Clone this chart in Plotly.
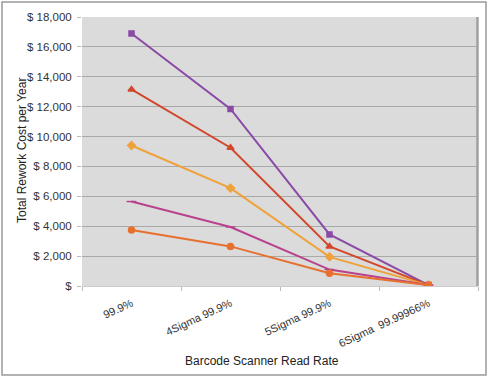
import plotly.graph_objects as go

categories = ["99.9%", "4Sigma 99.9%", "5Sigma 99.9%", "6Sigma  99.99966%"]
series_a = [16900, 11850, 3450, 60]   # purple, square
series_b = [13150, 9250, 2650, 60]    # red, triangle
series_c = [9400, 6550, 1950, 60]     # yellow-orange, diamond
series_d = [5650, 3950, 1100, 60]     # magenta, dash
series_e = [3750, 2650, 850, 60]      # orange, circle
y_ticks = [0, 2000, 4000, 6000, 8000, 10000, 12000, 14000, 16000, 18000]
y_tick_labels = ["$", "$ 2,000", "$ 4,000", "$ 6,000", "$ 8,000", "$ 10,000",
                 "$ 12,000", "$ 14,000", "$ 16,000", "$ 18,000"]

styles = [
    (series_a, "#8A4AA6", "square", 5),
    (series_b, "#D2482C", "triangle-up", 6),
    (series_c, "#EFA23A", "diamond", 6),
    (series_d, "#B9428E", "line-ew-open", 7),
    (series_e, "#E8702E", "circle", 6),
]

fig = go.Figure()
for vals, color, sym, size in styles:
    fig.add_trace(go.Scatter(
        x=categories, y=vals, mode="lines+markers",
        line=dict(color=color, width=2),
        marker=dict(color=color, symbol=sym, size=size,
                    line=dict(color=color, width=1.5)),
        showlegend=False,
    ))

W, H = 489, 378
L, R, T, B = 82, 11, 17, 92
pw, ph = W - L - R, H - T - B

def px_x(x):
    return (x - L) / pw

def px_y(y):
    return (H - B - y) / ph

fig.update_layout(
    width=W, height=H,
    margin=dict(l=L, r=R, t=T, b=B, autoexpand=False),
    paper_bgcolor="white",
    plot_bgcolor="#DBDBDB",
    font=dict(family="Liberation Sans, Arial, sans-serif", size=11, color="#333333"),
    xaxis=dict(
        type="category", tickson="boundaries", ticks="outside", ticklen=4,
        tickcolor="#BBBBBB", tickangle=-25, showgrid=False,
        showline=True, linecolor="#CCCCCC", linewidth=1,
        automargin=False, ticklabelstandoff=6,
        tickfont=dict(size=11, color="#333333"),
        range=[-0.5, 3.5],
    ),
    yaxis=dict(
        range=[0, 18000], tickvals=y_ticks, ticktext=y_tick_labels,
        showgrid=True, gridcolor="#A9A9A9", gridwidth=1,
        ticks="outside", ticklen=4, tickcolor="#BBBBBB",
        ticklabelstandoff=3,
        zeroline=False, showline=False, automargin=False,
        tickfont=dict(size=11.5, color="#333333"),
    ),
    annotations=[
        dict(text="Barcode Scanner Read Rate", xref="paper", yref="paper",
             x=px_x(262), y=px_y(361), showarrow=False,
             xanchor="center", yanchor="middle",
             font=dict(size=12, color="#222222")),
        dict(text="Total Rework Cost per Year", xref="paper", yref="paper",
             x=px_x(22), y=px_y(151), showarrow=False, textangle=-90,
             xanchor="center", yanchor="middle",
             font=dict(size=12, color="#222222")),
    ],
    shapes=[
        dict(type="rect", xref="paper", yref="paper",
             x0=px_x(2), x1=px_x(486), y0=px_y(375), y1=px_y(2),
             line=dict(color="#999999", width=1.5), layer="below"),
        dict(type="line", xref="paper", yref="paper",
             x0=px_x(477.5), x1=px_x(477.5), y0=0, y1=1,
             line=dict(color="#A0A0A0", width=2.5)),
    ],
)

fig.write_html("out.html", config={"displayModeBar": False},
               post_script="document.body.style.margin='0px';")
